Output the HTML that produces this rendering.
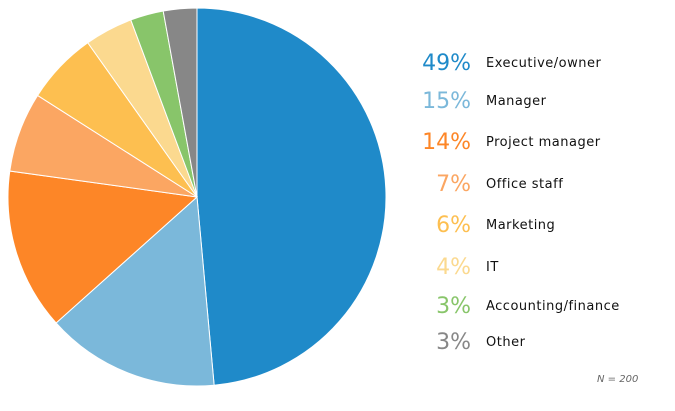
<!DOCTYPE html>
<html><head><meta charset="utf-8"><style>
body{margin:0;width:675px;height:407px;background:#fff;overflow:hidden;font-family:"DejaVu Sans","Liberation Sans",sans-serif;}
</style></head><body>
<svg id="s" width="675" height="407" xmlns="http://www.w3.org/2000/svg"></svg>
<script>
var s=document.getElementById('s');
var cx=197,cy=197,r=189;
var a=[0,174.8,228.2,277.9,302.5,324.7,339.5,349.7,360];
var col=['#1f8ac9','#7bb8da','#fd8627','#fba662','#fdbf50','#fbd98f','#88c56a','#878787'];
function pt(d){var t=d*Math.PI/180;return [cx+r*Math.sin(t),cy-r*Math.cos(t)];}
var h='';
for(var i=0;i<8;i++){var p=pt(a[i]),q=pt(a[i+1]);var lg=(a[i+1]-a[i])>180?1:0;
h+='<path d="M'+cx+','+cy+' L'+p[0]+','+p[1]+' A'+r+','+r+' 0 '+lg+' 1 '+q[0]+','+q[1]+' Z" fill="'+col[i]+'" stroke="#fff" stroke-width="1"/>';}
var pc=['49%','15%','14%','7%','6%','4%','3%','3%'];
var lb=['Executive/owner','Manager','Project manager','Office staff','Marketing','IT','Accounting/finance','Other'];
var ys=[62,100,141,183,224,266,305,341];
for(var i=0;i<8;i++){
h+='<text x="471" y="'+(ys[i]+8)+'" text-anchor="end" font-size="22" fill="'+col[i]+'">'+pc[i]+'</text>';
h+='<text x="486" y="'+(ys[i]+5)+'" font-size="13" letter-spacing="0.5" fill="#111">'+lb[i]+'</text>';}
h+='<text x="597" y="382" font-size="10" font-style="italic" fill="#666">N = 200</text>';
s.innerHTML=h;
</script>
</body></html>
